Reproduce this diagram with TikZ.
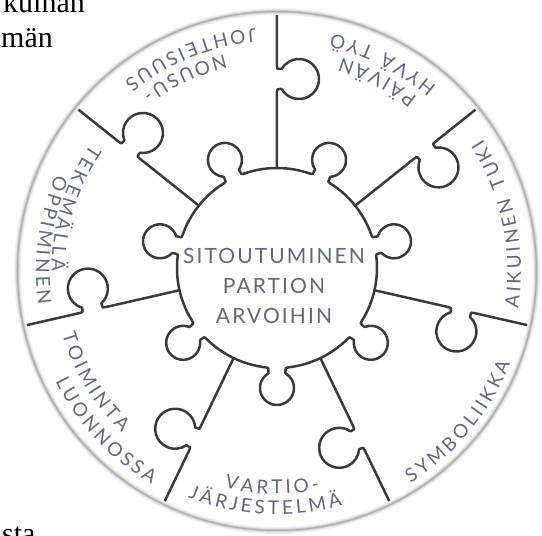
\documentclass[tikz,border=0pt]{standalone}
\usepackage{fontspec}
\newfontfamily\lfont{Lato}
\newfontfamily\cfont[LetterSpace=10]{Lato}
\newfontfamily\bgfont{Liberation Serif}
\definecolor{labelcol}{HTML}{5D6983}
\definecolor{puzcol}{HTML}{3A3A3A}
\newdimen\chw
\newcommand\lblfont{\lfont\fontsize{19}{23}\selectfont}
\def\mytrk{3.3}
\newcommand\preplabel[4]{% #1 name, #2 baseline radius, #3 mid angle, #4 characters
  \xdef\mytot{0}%
  \foreach \c in {#4}{\settowidth{\chw}{\lblfont\c}\pgfmathsetmacro\myt{\mytot+\the\chw+\mytrk}\xdef\mytot{\myt}}%
  \pgfmathsetmacro\myst{#3-(\mytot-\mytrk)/2/#2*180/pi}%
  \xdef\myacc{0}\gdef\mylist{}%
  \foreach \c in {#4}{%
    \settowidth{\chw}{\lblfont\c}%
    \pgfmathsetmacro\myang{\myst+(\myacc+\the\chw/2)/#2*180/pi}%
    \xdef\mylist{\ifx\mylist\empty\else\unexpanded\expandafter{\mylist},\fi\myang/\unexpanded\expandafter{\c}}%
    \pgfmathsetmacro\myt{\myacc+\the\chw+\mytrk}\xdef\myacc{\myt}}%
  \expandafter\xdef\csname lbl#1\endcsname{\unexpanded\expandafter{\mylist}}%
}
\newcommand\putlabel[3]{% #1 name, #2 radius, #3 list macro
  \foreach \a/\c [count=\i] in #3 {\node[lbl, rotate=\a+90] (#1-\i) at (\a:#2) {\c};}%
}
\begin{document}%
\preplabel{paivan}{223}{62.1}{P,Ä,I,V,Ä,N}%
\preplabel{hyva}{243.5}{63}{H,Y,V,Ä,~,T,Y,Ö}%
\preplabel{nousu}{223}{115.4}{N,O,U,S,U,-}%
\preplabel{johto}{243.5}{112}{J,O,H,T,E,I,S,U,U,S}%
\preplabel{tekem}{225.5}{162.9}{T,E,K,E,M,Ä,L,L,Ä}%
\preplabel{oppim}{241}{172.3}{O,P,P,I,M,I,N,E,N}%
\preplabel{toimi}{224}{211.3}{T,O,I,M,I,N,T,A}%
\preplabel{luonn}{247.5}{223}{L,U,O,N,N,O,S,S,A}%
\preplabel{vartio}{223}{268.7}{V,A,R,T,I,O,-}%
\preplabel{jarj}{243.5}{267.1}{J,Ä,R,J,E,S,T,E,L,M,Ä}%
\preplabel{symb}{251}{320.3}{S,Y,M,B,O,L,I,I,K,K,A}%
\preplabel{aikui}{244}{11.9}{A,I,K,U,I,N,E,N,~,T,U,K,I}%
\begin{tikzpicture}[x=1pt,y=1pt,
  lbl/.style={font=\lblfont, text=labelcol, inner sep=0pt, anchor=base},
  ctext/.style={font=\cfont\fontsize{21}{25}\selectfont, text=labelcol, inner sep=0pt, anchor=base},
  bgtext/.style={font=\bgfont\fontsize{30}{36}\selectfont, text=black, inner sep=0pt, anchor=base west},
  puz/.style={draw=puzcol, line width=2.5pt, line join=round, line cap=round}]
\useasboundingbox (-277,-265) rectangle (265,271);
\clip (-277,-265) rectangle (265,271);
\fill[white] (-277,-265) rectangle (265,271);
% stray page text
\node[bgtext] (bg1) at (-274,258) {kuinan};
\node[bgtext] (bg2) at (-276,223) {män};
\node[bgtext] (bg3) at (-275,-272) {sta};
% disc
\fill[white] (0,0) circle (259.5);
\begin{scope}
\clip (0,0) circle (259);
\foreach \th in {90, 38.5714, -12.8571, -64.2857, -115.7143, -167.1429, 141.4286} {
  \begin{scope}[shift={(0,3)}, rotate=\th]
    \draw[puz] (100,0) -- (176,0) .. controls (179,0) .. (179,-3) -- (179,-4.68)
      arc[start angle=120, end angle=420, radius=20] -- (199,-3) .. controls (199,0) .. (202,0) -- (266,0);
  \end{scope}
}
\end{scope}
% inner piece
\draw[puz, shift={(0,3)}] (-96.6:100)
  \foreach \p in {-90, -38.5714, 12.8571, 64.2857, 115.7143, 167.1429, 218.5714} {
    .. controls (\p-4.876:100) .. (\p-4.736:102.95) -- (\p-4.616:105.62)
    arc[start angle=\p-150, end angle=\p+150, radius=17]
    -- (\p+4.736:102.95) .. controls (\p+4.876:100) .. (\p+6.6:100)
    arc[start angle=\p+6.6, end angle=\p+44.8286, radius=100]
  } -- cycle;
% rim
\draw[line width=7pt, black!5] (0,0) circle (259.5);
\draw[line width=4.5pt, black!12] (0,0) circle (259.5);
\draw[line width=2.5pt, black!22] (0,0) circle (259.5);
\draw[line width=1pt, black!32] (0,0) circle (259.5);
% centre text
\node[ctext] (c1) at (-3,7.5) {SITOUTUMINEN};
\node[ctext] (c2) at (-3,-22.5) {PARTION};
\node[ctext] (c3) at (-3,-52.5) {ARVOIHIN};
% ring labels
\putlabel{paivan}{223}{\lblpaivan}
\putlabel{hyva}{243.5}{\lblhyva}
\putlabel{nousu}{223}{\lblnousu}
\putlabel{johto}{243.5}{\lbljohto}
\putlabel{tekem}{225.5}{\lbltekem}
\putlabel{oppim}{241}{\lbloppim}
\putlabel{toimi}{224}{\lbltoimi}
\putlabel{luonn}{247.5}{\lblluonn}
\putlabel{vartio}{223}{\lblvartio}
\putlabel{jarj}{243.5}{\lbljarj}
\putlabel{symb}{251}{\lblsymb}
\putlabel{aikui}{244}{\lblaikui}
\end{tikzpicture}
\end{document}
